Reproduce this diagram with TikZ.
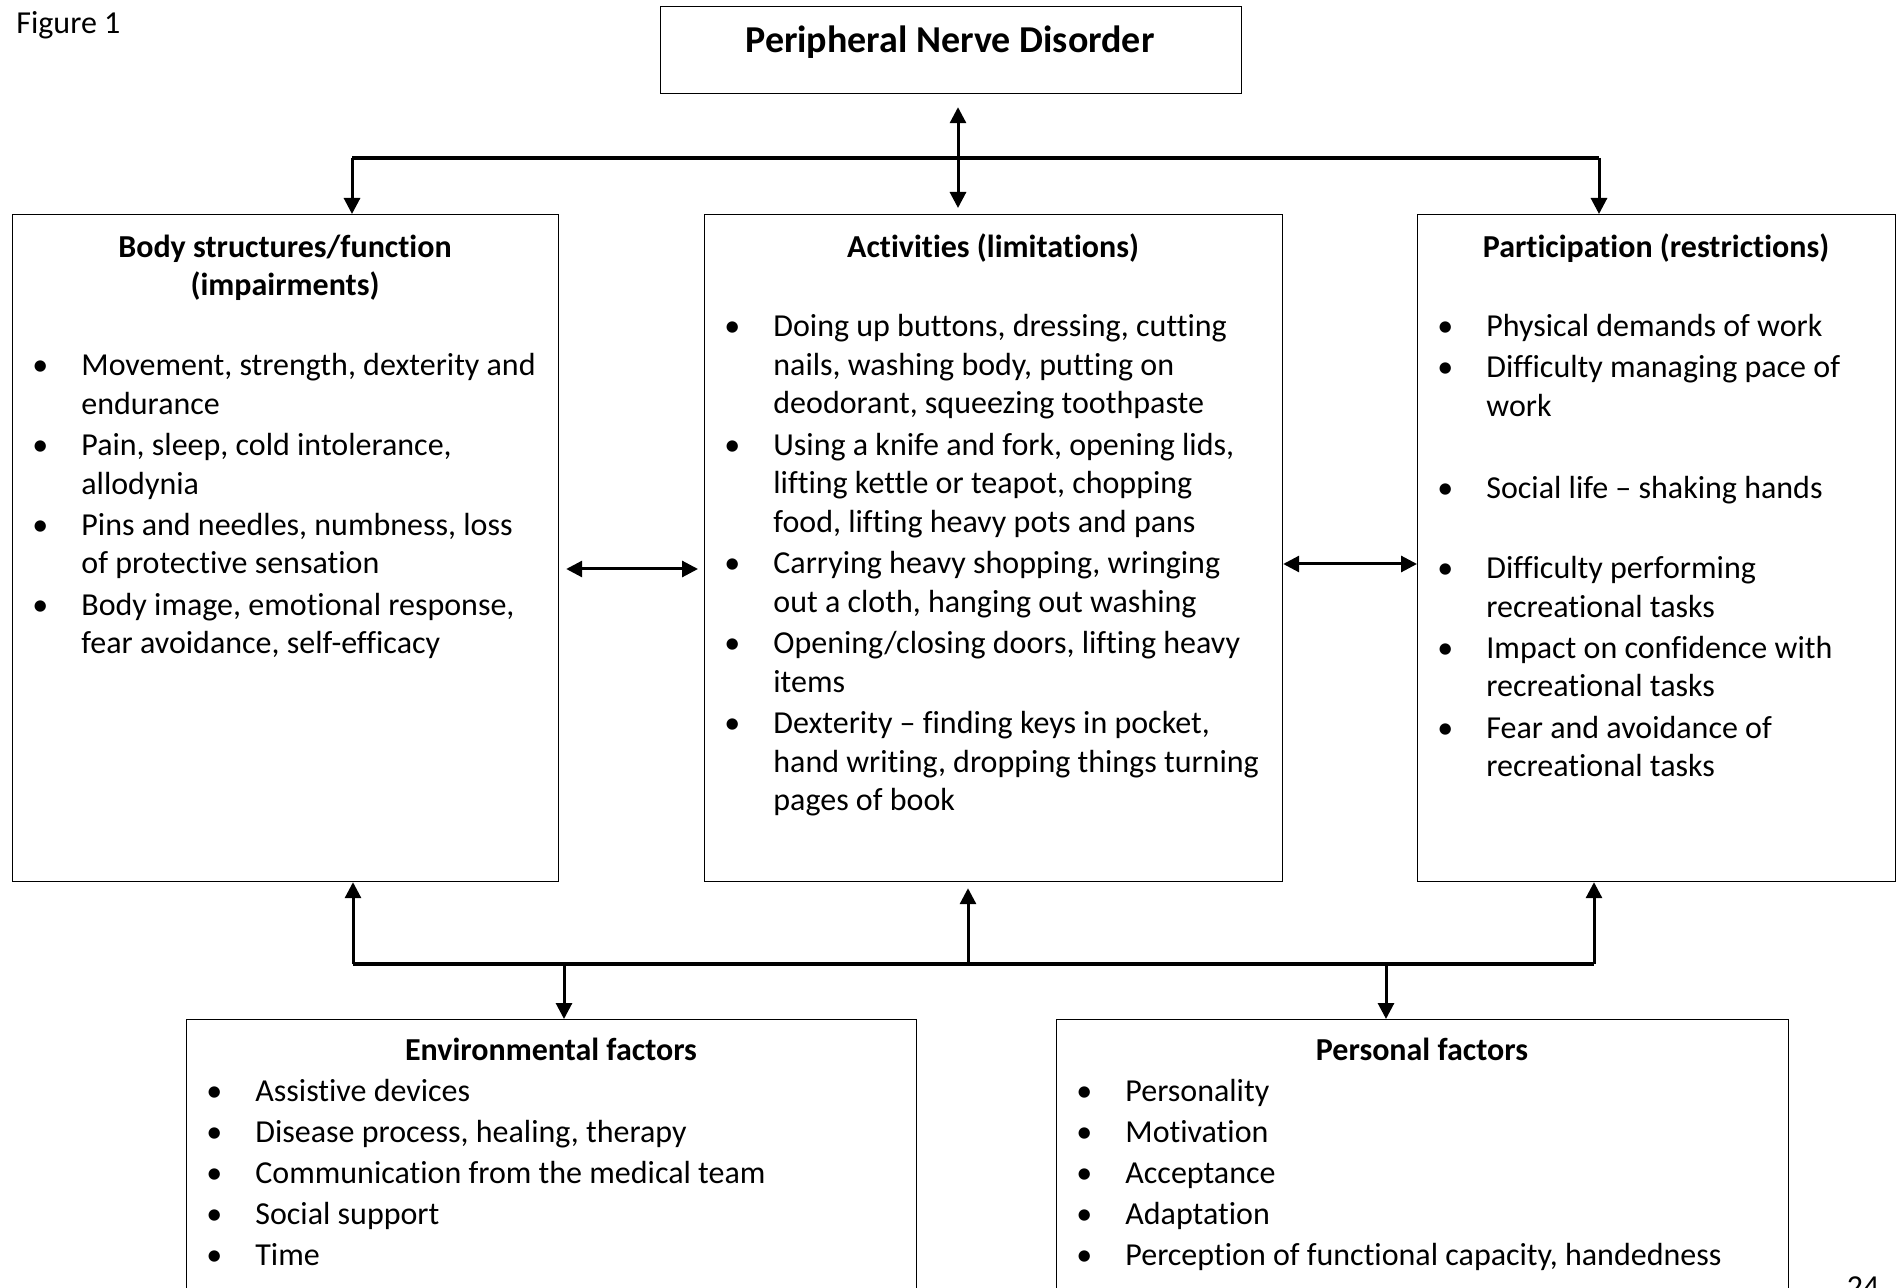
\documentclass[tikz,border=0pt]{standalone}
\usepackage{fontspec}
\setmainfont{Carlito}[Ligatures=NoCommon]
\usetikzlibrary{arrows.meta}

\tikzset{
  box/.style={draw, line width=0.6pt, inner sep=0pt, anchor = north west},
  arr/.style={line width=1.5pt, -{Triangle[length=8pt,width=8pt]}},
  dbl/.style={line width=1.5pt, {Triangle[length=8pt,width=8pt]}-{Triangle[length=8pt,width=8pt]}},
  bar/.style={line width=1.6pt},
  txt/.style={inner sep=0pt, anchor = base west, font=\fontsize{16}{19.36}\selectfont},
  head/.style={inner sep=0pt, anchor = base, font=\fontsize{16}{19.36}\selectfont\bfseries},
}
\newcommand{\gap}{\\[1.2pt]}
\newcommand{\bl}{\hspace*{-4pt}\textbullet}

\begin{document}
\begin{tikzpicture}[x=0.5pt, y=-0.5pt]
\useasboundingbox (0,0) rectangle (1897,1288);
\fill[white] (0,0) rectangle (1897,1288);

% boxes
\node[box, minimum width=290.5pt, minimum height=43.5pt] (pnd) at (660,6) {};
\node[box, minimum width=273pt, minimum height=333.5pt] (body) at (12,214) {};
\node[box, minimum width=289pt, minimum height=333.5pt] (act) at (704,214) {};
\node[box, minimum width=239pt, minimum height=333.5pt] (part) at (1417,214) {};
\node[box, minimum width=365pt, minimum height=200pt] (env) at (186,1019) {};
\node[box, minimum width=366pt, minimum height=200pt] (pers) at (1056,1019) {};

% titles
\node[txt] (fig) at (16,34) {Figure 1};
\node[head, font=\fontsize{19}{23}\selectfont\bfseries] (ttl) at (950,53) {Peripheral Nerve Disorder};
\node[head] (bodyh) at (285,257.5) {Body structures/function};
\node[head] (bodyh2) at (285,295.5) {(impairments)};
\node[head] (acth) at (993,257.5) {Activities (limitations)};
\node[head] (parth) at (1656,257.5) {Participation (restrictions)};
\node[head] (envh) at (551,1060.5) {Environmental factors};
\node[head] (persh) at (1422,1060.5) {Personal factors};
\node[txt, anchor = base] (pg) at (1863,1297) {24};

% lists
\node[txt] (bodyl) at (40,375.5) {\begin{tabular}[t]{@{}p{20.5pt}@{}l@{}}
\bl & Movement, strength, dexterity and\\
    & endurance\gap
\bl & Pain, sleep, cold intolerance,\\
    & allodynia\gap
\bl & Pins and needles, numbness, loss\\
    & of protective sensation\gap
\bl & Body image, emotional response,\\
    & fear avoidance, self-efficacy
\end{tabular}};

\node[txt] (actl) at (732,336.5) {\begin{tabular}[t]{@{}p{20.5pt}@{}l@{}}
\bl & Doing up buttons, dressing, cutting\\
    & nails, washing body, putting on\\
    & deodorant, squeezing toothpaste\gap
\bl & Using a knife and fork, opening lids,\\
    & lifting kettle or teapot, chopping\\
    & food, lifting heavy pots and pans\gap
\bl & Carrying heavy shopping, wringing\\
    & out a cloth, hanging out washing\gap
\bl & Opening/closing doors, lifting heavy\\
    & items\gap
\bl & Dexterity -- finding keys in pocket,\\
    & hand writing, dropping things turning\\
    & pages of book
\end{tabular}};

\node[txt] (partl) at (1445,336.5) {\begin{tabular}[t]{@{}p{20.5pt}@{}l@{}}
\bl & Physical demands of work\gap
\bl & Difficulty managing pace of\\
    & work\gap
    & \gap
\bl & Social life -- shaking hands\\
    & \gap
\bl & Difficulty performing\\
    & recreational tasks\gap
\bl & Impact on confidence with\\
    & recreational tasks\gap
\bl & Fear and avoidance of\\
    & recreational tasks
\end{tabular}};

\node[txt] (envl) at (214,1101.5) {\begin{tabular}[t]{@{}p{20.5pt}@{}l@{}}
\bl & Assistive devices\gap
\bl & Disease process, healing, therapy\gap
\bl & Communication from the medical team\gap
\bl & Social support\gap
\bl & Time
\end{tabular}};

\node[txt] (persl) at (1084,1101.5) {\begin{tabular}[t]{@{}p{20.5pt}@{}l@{}}
\bl & Personality\gap
\bl & Motivation\gap
\bl & Acceptance\gap
\bl & Adaptation\gap
\bl & Perception of functional capacity, handedness
\end{tabular}};

% top connectors
\coordinate (tl) at (352,158);
\coordinate (tr) at (1599,158);
\coordinate (tm) at (958,158);
\draw[bar] (tl) -- (tr);
\draw[arr] (tl) -- (tl |- body.north);
\draw[arr] (tr) -- (tr |- part.north);
\draw[dbl, shorten <=6.5pt, shorten >=3pt] (tm |- pnd.south) -- (tm |- act.north);

% side connectors
\coordinate (ml) at (0,569);
\coordinate (mr) at (0,564);
\draw[dbl, shorten <=3.5pt, shorten >=3pt] (body.east |- ml) -- (act.west |- ml);
\draw[dbl] (act.east |- mr) -- (part.west |- mr);

% bottom connectors
\coordinate (bl) at (353,964);
\coordinate (br) at (1594,964);
\coordinate (bm) at (968,964);
\coordinate (be) at (564,964);
\coordinate (bp) at (1386,964);
\draw[bar, line width=2pt] (bl) -- (br);
\draw[arr] (bl) -- (bl |- body.south);
\draw[arr, shorten >=3pt] (bm) -- (bm |- act.south);
\draw[arr] (br) -- (br |- part.south);
\draw[arr] (be) -- (be |- env.north);
\draw[arr] (bp) -- (bp |- pers.north);
\end{tikzpicture}
\end{document}
